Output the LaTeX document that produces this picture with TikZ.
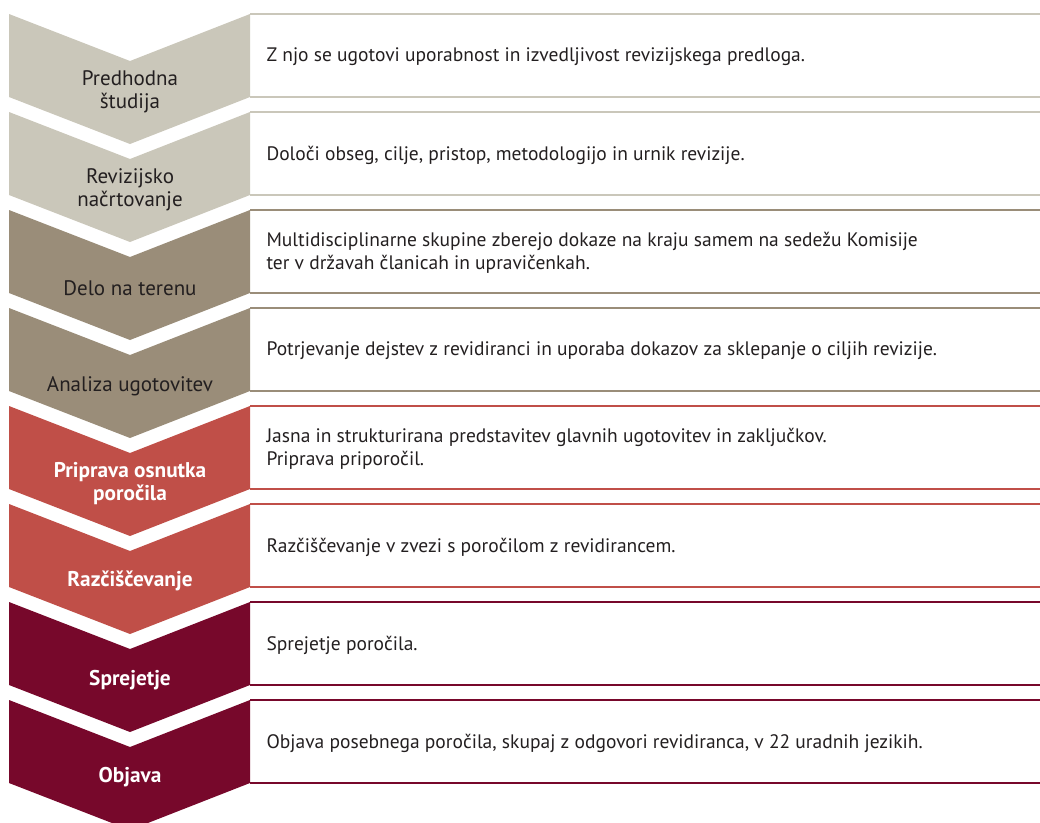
\documentclass[tikz,border=0pt]{standalone}
\usepackage{fontspec}
\setmainfont{PT Sans}

\definecolor{stone}{RGB}{202,199,186}
\definecolor{taupe}{RGB}{154,141,121}
\definecolor{brick}{RGB}{192,79,72}
\definecolor{wine}{RGB}{119,8,43}
\definecolor{ink}{RGB}{35,31,32}

\begin{document}
\begin{tikzpicture}[x=1pt, y=-1pt,
		stage/.style={align=center, font=\fontsize{21}{23}\selectfont},
		darkstage/.style={stage, text=ink},
		lightstage/.style={stage, text=white, font=\fontsize{21.3}{23}\selectfont\bfseries},
		desc/.style={anchor=west, align=left, text=ink, font=\fontsize{19.5}{23}\selectfont},
		rule/.style={line width=2pt}]
		\useasboundingbox (0,0) rectangle (1040,822);

		% Predhodna studija
		\fill[stone] (9,14) -- (130,61) -- (250,14) -- ++(0,83) -- (130,144) -- (9,97) -- cycle;
		\draw[rule, stone] (250,14) -- ++(790,0) (250,97) -- ++(790,0);
		\node[darkstage] (s1) at (130,92) {Predhodna\\študija};
		\node[desc] (d1) at (263,57) {Z njo se ugotovi uporabnost in izvedljivost revizijskega predloga.};

		% Revizijsko nacrtovanje
		\fill[stone] (9,112) -- (130,159) -- (250,112) -- ++(0,83) -- (130,242) -- (9,195) -- cycle;
		\draw[rule, stone] (250,112) -- ++(790,0) (250,195) -- ++(790,0);
		\node[darkstage] (s2) at (130,190) {Revizijsko\\načrtovanje};
		\node[desc] (d2) at (263,155) {Določi obseg, cilje, pristop, metodologijo in urnik revizije.};

		% Delo na terenu
		\fill[taupe] (9,210) -- (130,257) -- (250,210) -- ++(0,83) -- (130,340) -- (9,293) -- cycle;
		\draw[rule, taupe] (250,210) -- ++(790,0) (250,293) -- ++(790,0);
		\node[darkstage] (s3) at (130,288) {Delo na terenu};
		\node[desc] (d3) at (263,253) {Multidisciplinarne skupine zberejo dokaze na kraju samem na sedežu Komisije\\ter v državah članicah in upravičenkah.};

		% Analiza ugotovitev
		\fill[taupe] (9,308) -- (130,355) -- (250,308) -- ++(0,83) -- (130,438) -- (9,391) -- cycle;
		\draw[rule, taupe] (250,308) -- ++(790,0) (250,391) -- ++(790,0);
		\node[darkstage] (s4) at (130,386) {Analiza ugotovitev};
		\node[desc] (d4) at (263,351) {Potrjevanje dejstev z revidiranci in uporaba dokazov za sklepanje o ciljih revizije.};

		% Priprava osnutka porocila
		\fill[brick] (9,406) -- (130,453) -- (250,406) -- ++(0,83) -- (130,536) -- (9,489) -- cycle;
		\draw[rule, brick] (250,406) -- ++(790,0) (250,489) -- ++(790,0);
		\node[lightstage] (s5) at (130,484) {Priprava osnutka\\poročila};
		\node[desc] (d5) at (263,449) {Jasna in strukturirana predstavitev glavnih ugotovitev in zaključkov.\\Priprava priporočil.};

		% Razciscevanje
		\fill[brick] (9,504) -- (130,551) -- (250,504) -- ++(0,83) -- (130,634) -- (9,587) -- cycle;
		\draw[rule, brick] (250,504) -- ++(790,0) (250,587) -- ++(790,0);
		\node[lightstage] (s6) at (130,581) {Razčiščevanje};
		\node[desc] (d6) at (263,547) {Razčiščevanje v zvezi s poročilom z revidirancem.};

		% Sprejetje
		\fill[wine] (9,602) -- (130,649) -- (250,602) -- ++(0,83) -- (130,732) -- (9,685) -- cycle;
		\draw[rule, wine] (250,602) -- ++(790,0) (250,685) -- ++(790,0);
		\node[lightstage] (s7) at (130,680) {Sprejetje};
		\node[desc] (d7) at (263,645) {Sprejetje poročila.};

		% Objava
		\fill[wine] (9,700) -- (130,747) -- (250,700) -- ++(0,83) -- (130,830) -- (9,783) -- cycle;
		\draw[rule, wine] (250,700) -- ++(790,0) (250,783) -- ++(790,0);
		\node[lightstage] (s8) at (130,777) {Objava};
		\node[desc] (d8) at (263,743) {Objava posebnega poročila, skupaj z odgovori revidiranca, v 22 uradnih jezikih.};
	\end{tikzpicture}
\end{document}
